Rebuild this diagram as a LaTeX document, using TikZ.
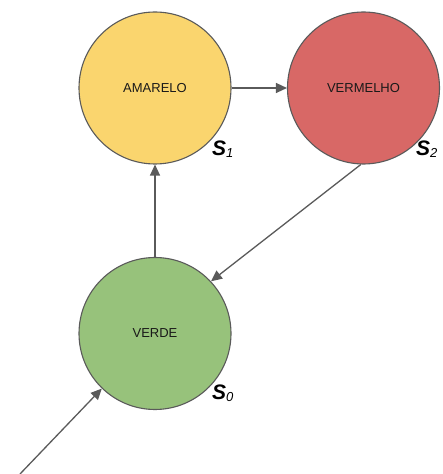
\documentclass[tikz,border=0pt]{standalone}
\usepackage{fontspec}
\setmainfont{Liberation Sans}
\usetikzlibrary{arrows.meta}
\definecolor{amarelo}{HTML}{FAD56E}
\definecolor{vermelho}{HTML}{D86866}
\definecolor{verde}{HTML}{97C27B}
\definecolor{traco}{HTML}{5A5A5A}
\tikzset{
  estado/.style={circle, draw=traco, line width=1.1pt, minimum size=152pt, inner sep=0pt,
    font=\fontsize{13}{15}\selectfont, text=black!90},
  seta/.style={draw=traco, line width=1.3pt, -{Triangle[length=11pt,width=10pt]}},
  rotulo/.style={font=\fontsize{21}{21}\selectfont\bfseries\itshape, inner sep=0pt, anchor=base west}
}
\newcommand{\estado}[1]{S{\fontsize{13}{13}\selectfont\mdseries\itshape\raisebox{-1.5pt}{#1}}}
\begin{document}
\begin{tikzpicture}[x=1pt,y=1pt]
  \useasboundingbox (0,0) rectangle (443,474);
  \node[estado, fill=amarelo] (s1) at (155,386) {AMARELO};
  \node[estado, fill=vermelho] (s2) at (363.5,386) {VERMELHO};
  \node[estado, fill=verde] (s0) at (155,140.5) {VERDE};
  \coordinate (inicio) at (20,0);
  \draw[seta] (s1) -- (s2);
  \draw[seta] (s2.-92) -- (s0.43);
  \draw[seta] (s0) -- (s1);
  \draw[seta] (inicio) -- (s0.226);
  \node[rotulo] (l1) at (212,318) {\estado{1}};
  \node[rotulo] (l2) at (416,318) {\estado{2}};
  \node[rotulo] (l0) at (212,74) {\estado{0}};
\end{tikzpicture}
\end{document}
